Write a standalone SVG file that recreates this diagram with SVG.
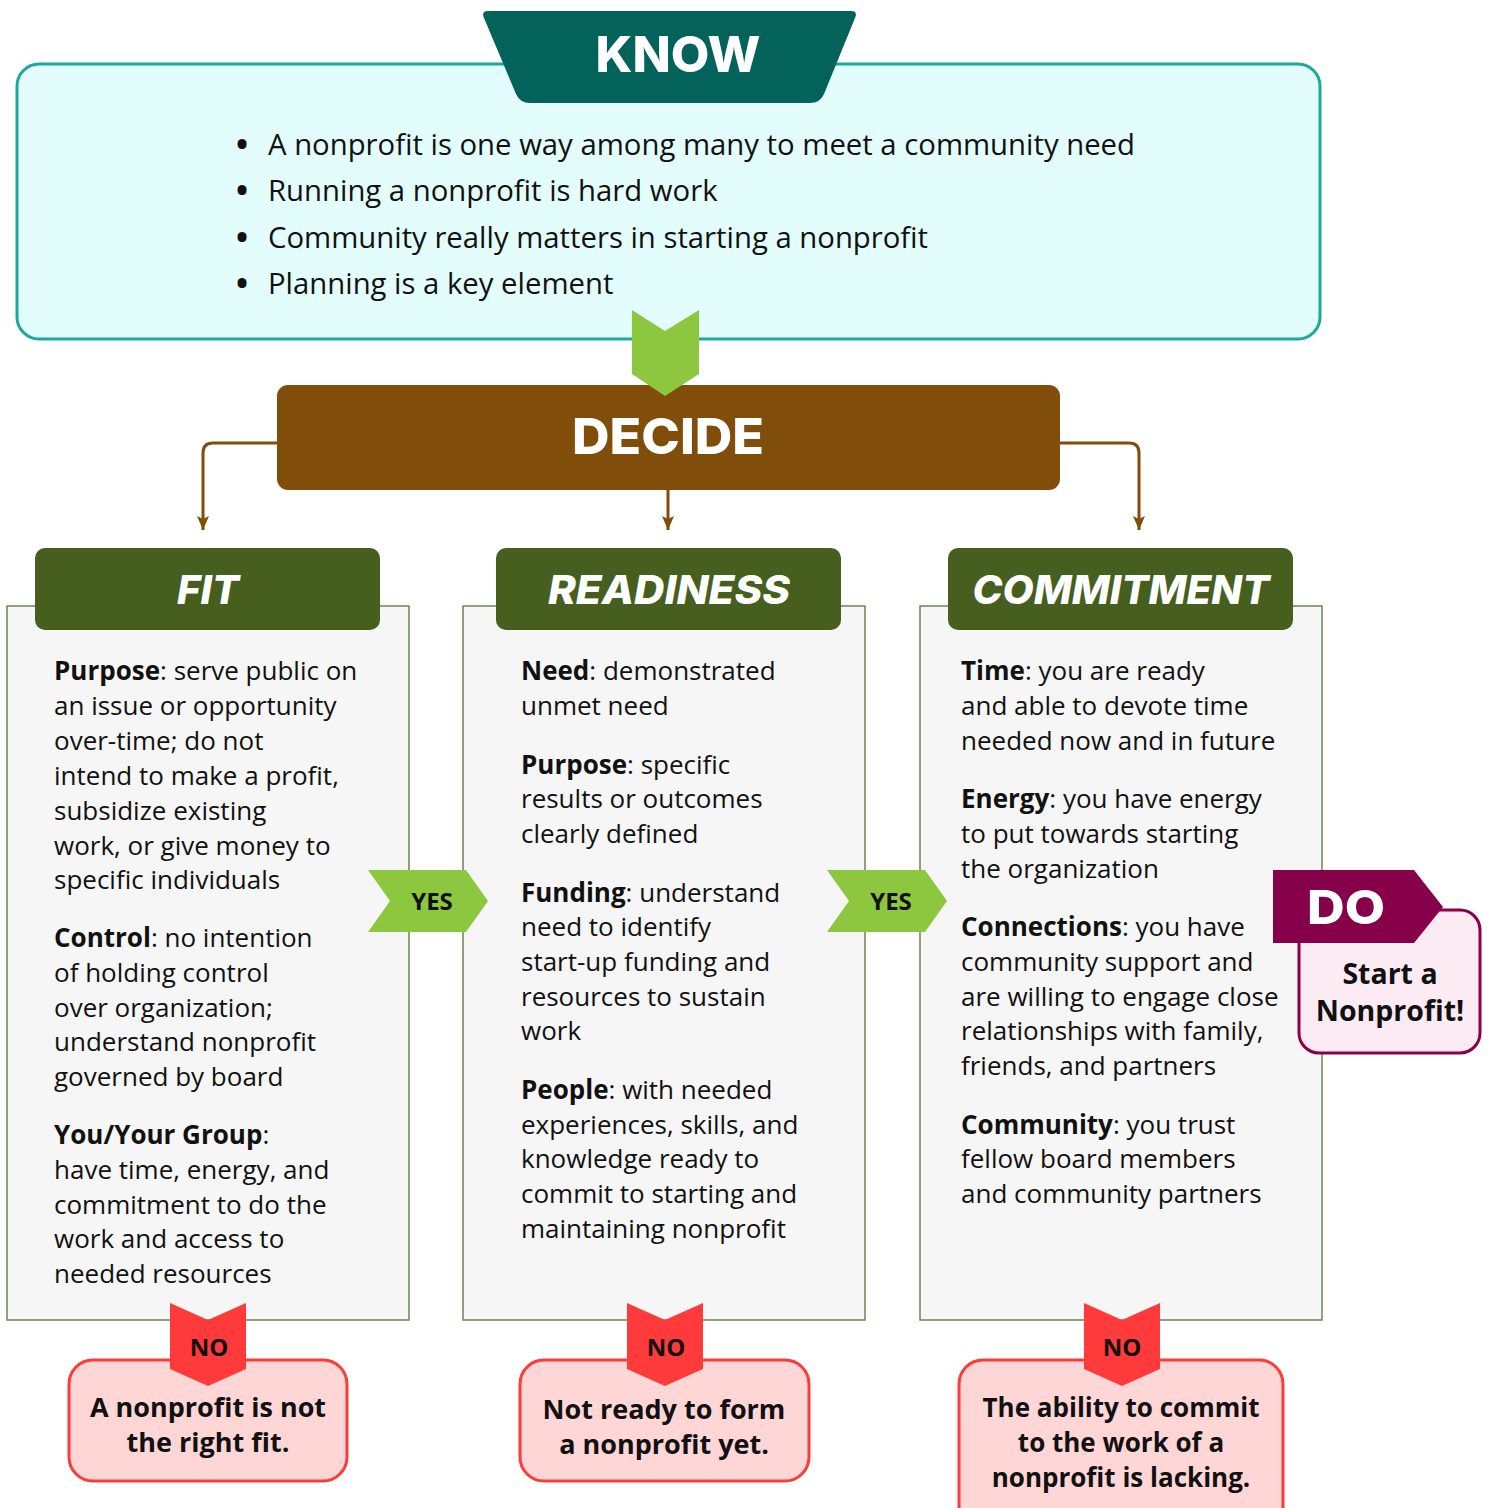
<svg xmlns="http://www.w3.org/2000/svg" width="1488" height="1508" viewBox="0 0 1488 1508">
<defs>
<style>
.body{font-family:"Open Sans","Noto Sans",sans-serif;font-size:26px;fill:#111}
.body tspan.b{font-weight:700}
.bul{font-family:"Open Sans","Noto Sans",sans-serif;font-size:29.3px;fill:#111}
.bul tspan.dot{font-size:32px;font-weight:700}
.hdr{font-family:Inter,"Open Sans",sans-serif;font-weight:800;fill:#fff}
.tag{font-family:"Open Sans","Noto Sans",sans-serif;font-weight:700;font-size:24px;fill:#111;text-anchor:middle}
.res{font-family:"Open Sans","Noto Sans",sans-serif;font-weight:700;font-size:27px;fill:#111;text-anchor:middle}
.res.big{font-size:28.5px}
.res.sm{font-size:26px}
.panel{fill:#f6f6f6;stroke:#6f8450;stroke-width:1.5}
.colhead{fill:#465e1e}
.no{fill:#fe3a3a}
.nobox{fill:#ffd6d6;stroke:#fe3a3a;stroke-width:3}
.yes{fill:#8dc63f}
.conn{fill:none;stroke:#814d0b;stroke-width:3}
</style>
<marker id="arr" viewBox="0 0 14 12" refX="14" refY="6" markerWidth="14" markerHeight="12" markerUnits="userSpaceOnUse" orient="auto">
<path d="M0,0 L14,6 L0,12 L3,6 z" fill="#814d0b"/>
</marker>
</defs>

<g id="know">
<rect x="17" y="64" width="1303" height="275" rx="22" fill="#e2fdfb" stroke="#1aa99a" stroke-width="3"/>
<path d="M488,11 L851,11 Q858,11 855,18 L824,94 Q820,103 810,103 L530,103 Q520,103 516,94 L484,18 Q481,11 488,11 Z" fill="#03625a"/>
<text class="hdr" x="678" y="72" font-size="50" text-anchor="middle" textLength="165" lengthAdjust="spacingAndGlyphs">KNOW</text>
<text class="bul"><tspan class="dot" x="236" y="156">•</tspan><tspan x="268" y="155">A nonprofit is one way among many to meet a community need</tspan></text>
<text class="bul"><tspan class="dot" x="236" y="202">•</tspan><tspan x="268" y="201">Running a nonprofit is hard work</tspan></text>
<text class="bul"><tspan class="dot" x="236" y="249">•</tspan><tspan x="268" y="248">Community really matters in starting a nonprofit</tspan></text>
<text class="bul"><tspan class="dot" x="236" y="295">•</tspan><tspan x="268" y="294">Planning is a key element</tspan></text>
</g>

<g id="connectors">
<path class="conn" d="M277,443 L213,443 Q203,443 203,453 L203,530" marker-end="url(#arr)"/>
<path class="conn" d="M668,490 L668,530" marker-end="url(#arr)"/>
<path class="conn" d="M1060,443 L1129,443 Q1139,443 1139,453 L1139,530" marker-end="url(#arr)"/>
</g>

<g id="decide">
<rect x="277" y="385" width="783" height="105" rx="11" fill="#814d0b"/>
<text class="hdr" x="668" y="454" font-size="50" text-anchor="middle" textLength="192" lengthAdjust="spacingAndGlyphs">DECIDE</text>
</g>

<g id="know-arrow">
<path d="M632,310 L665,331 L699,310 L699,374 L665,396 L632,374 Z" fill="#8dc63f"/>
</g>

<g id="fit">
<rect class="panel" x="7" y="606" width="402" height="714"/>
<rect class="colhead" x="35" y="548" width="345" height="82" rx="10"/>
<text class="hdr" x="208" y="604" font-size="40" font-style="italic" text-anchor="middle" textLength="62" lengthAdjust="spacingAndGlyphs">FIT</text>
<text class="body" x="54">
<tspan x="54" y="680"><tspan class="b">Purpose</tspan>: serve public on</tspan>
<tspan x="54" y="715">an issue or opportunity</tspan>
<tspan x="54" y="750">over-time; do not</tspan>
<tspan x="54" y="785">intend to make a profit,</tspan>
<tspan x="54" y="820">subsidize existing</tspan>
<tspan x="54" y="855">work, or give money to</tspan>
<tspan x="54" y="889">specific individuals</tspan>
<tspan x="54" y="947"><tspan class="b">Control</tspan>: no intention</tspan>
<tspan x="54" y="982">of holding control</tspan>
<tspan x="54" y="1017">over organization;</tspan>
<tspan x="54" y="1051">understand nonprofit</tspan>
<tspan x="54" y="1086">governed by board</tspan>
<tspan x="54" y="1144"><tspan class="b">You/Your Group</tspan>:</tspan>
<tspan x="54" y="1179">have time, energy, and</tspan>
<tspan x="54" y="1214">commitment to do the</tspan>
<tspan x="54" y="1248">work and access to</tspan>
<tspan x="54" y="1283">needed resources</tspan>
</text>
</g>

<g id="readiness">
<rect class="panel" x="463" y="606" width="402" height="714"/>
<rect class="colhead" x="496" y="548" width="345" height="82" rx="10"/>
<text class="hdr" x="669" y="604" font-size="40" font-style="italic" text-anchor="middle" textLength="242" lengthAdjust="spacingAndGlyphs">READINESS</text>
<text class="body">
<tspan x="521" y="680"><tspan class="b">Need</tspan>: demonstrated</tspan>
<tspan x="521" y="715">unmet need</tspan>
<tspan x="521" y="774"><tspan class="b">Purpose</tspan>: specific</tspan>
<tspan x="521" y="808">results or outcomes</tspan>
<tspan x="521" y="843">clearly defined</tspan>
<tspan x="521" y="902"><tspan class="b">Funding</tspan>: understand</tspan>
<tspan x="521" y="936">need to identify</tspan>
<tspan x="521" y="971">start-up funding and</tspan>
<tspan x="521" y="1006">resources to sustain</tspan>
<tspan x="521" y="1040">work</tspan>
<tspan x="521" y="1099"><tspan class="b">People</tspan>: with needed</tspan>
<tspan x="521" y="1134">experiences, skills, and</tspan>
<tspan x="521" y="1168">knowledge ready to</tspan>
<tspan x="521" y="1203">commit to starting and</tspan>
<tspan x="521" y="1238">maintaining nonprofit</tspan>
</text>
</g>

<g id="commitment">
<rect class="panel" x="920" y="606" width="402" height="714"/>
<rect class="colhead" x="948" y="548" width="345" height="82" rx="10"/>
<text class="hdr" x="1121" y="604" font-size="40" font-style="italic" text-anchor="middle" textLength="297" lengthAdjust="spacingAndGlyphs">COMMITMENT</text>
<text class="body">
<tspan x="961" y="680"><tspan class="b">Time</tspan>: you are ready</tspan>
<tspan x="961" y="715">and able to devote time</tspan>
<tspan x="961" y="750">needed now and in future</tspan>
<tspan x="961" y="808"><tspan class="b">Energy</tspan>: you have energy</tspan>
<tspan x="961" y="843">to put towards starting</tspan>
<tspan x="961" y="878">the organization</tspan>
<tspan x="961" y="936"><tspan class="b">Connections</tspan>: you have</tspan>
<tspan x="961" y="971">community support and</tspan>
<tspan x="961" y="1006">are willing to engage close</tspan>
<tspan x="961" y="1040">relationships with family,</tspan>
<tspan x="961" y="1075">friends, and partners</tspan>
<tspan x="961" y="1134"><tspan class="b">Community</tspan>: you trust</tspan>
<tspan x="961" y="1168">fellow board members</tspan>
<tspan x="961" y="1203">and community partners</tspan>
</text>
</g>

<g id="yes1">
<path class="yes" d="M368,870 L466,870 L488,901 L466,932 L368,932 L390,901 Z"/>
<text class="tag" x="432" y="910">YES</text>
</g>
<g id="yes2">
<path class="yes" d="M827,870 L925,870 L947,901 L925,932 L827,932 L849,901 Z"/>
<text class="tag" x="891" y="910">YES</text>
</g>

<g id="do">
<rect x="1299" y="910" width="181" height="143" rx="20" fill="#fdebf4" stroke="#8b0049" stroke-width="3"/>
<path d="M1273,870 L1414,870 L1443,907 L1414,943 L1273,943 Z" fill="#86004a"/>
<text class="hdr" x="1346" y="924" font-size="46" text-anchor="middle" textLength="78" lengthAdjust="spacingAndGlyphs">DO</text>
<text class="res big" x="1390" y="984">Start a</text>
<text class="res big" x="1390" y="1021">Nonprofit!</text>
</g>

<g id="no1">
<rect class="nobox" x="69" y="1360" width="278" height="121" rx="24"/>
<path class="no" d="M170,1303 L208,1320 L246,1303 L246,1369 L208,1386 L170,1369 Z"/>
<text class="tag" x="209" y="1356">NO</text>
<text class="res" x="208" y="1417">A nonprofit is not</text>
<text class="res" x="208" y="1452">the right fit.</text>
</g>
<g id="no2">
<rect class="nobox" x="520" y="1360" width="289" height="121" rx="24"/>
<path class="no" d="M627,1303 L665,1320 L703,1303 L703,1369 L665,1386 L627,1369 Z"/>
<text class="tag" x="666" y="1356">NO</text>
<text class="res" x="664" y="1419">Not ready to form</text>
<text class="res" x="664" y="1454">a nonprofit yet.</text>
</g>
<g id="no3">
<rect class="nobox" x="959" y="1360" width="324" height="170" rx="24"/>
<path class="no" d="M1084,1303 L1122,1320 L1160,1303 L1160,1369 L1122,1386 L1084,1369 Z"/>
<text class="tag" x="1122" y="1356">NO</text>
<text class="res sm" x="1121" y="1417">The ability to commit</text>
<text class="res sm" x="1121" y="1452">to the work of a</text>
<text class="res sm" x="1121" y="1487">nonprofit is lacking.</text>
</g>
</svg>
